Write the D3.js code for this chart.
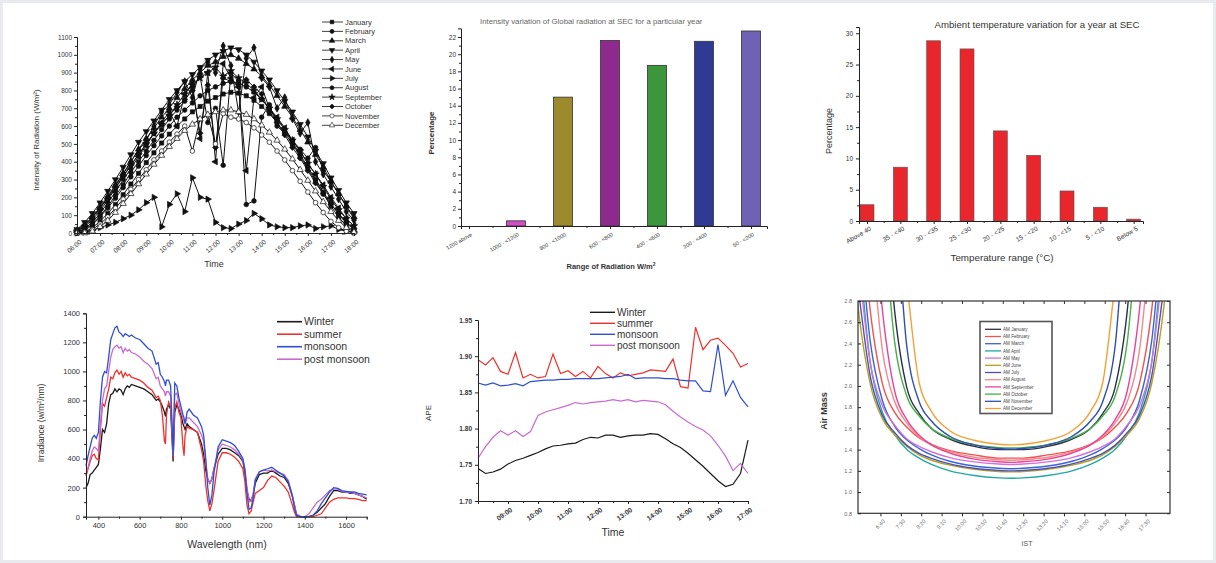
<!DOCTYPE html>
<html>
<head>
<meta charset="utf-8">
<style>
  body { margin: 0; background: #fff; }
  svg { display: block; font-family: "Liberation Sans", Arial, sans-serif; }
</style>
</head>
<body>
<script src="https://d3js.org/d3.v7.min.js"></script>
<script>

// ---------- panel 1 : monthly global radiation ----------
var months = ["January","February","March","April","May","June","July","August","September","October","November","December"];
var hourLabels = ["06:00","07:00","08:00","09:00","10:00","11:00","12:00","13:00","14:00","15:00","16:00","17:00","18:00"];
// minutes after midnight, every 20 min
var radTimes = [360,380,400,420,440,460,480,500,520,540,560,580,600,620,640,660,680,700,720,740,760,780,800,820,840,860,880,900,920,940,960,980,1000,1020,1040,1060,1080];
var radJan = [0,5,30,65,110,160,215,275,335,395,450,505,555,600,640,680,710,740,760,780,790,785,770,745,710,670,620,560,500,430,360,290,220,150,90,40,10];
var radFeb = [0,15,45,90,140,195,255,315,375,435,490,545,600,650,690,730,770,800,820,840,850,840,820,790,750,700,640,580,510,440,370,300,230,165,105,55,20];
var radMar = [15,45,90,145,205,270,335,400,470,530,590,650,700,760,810,860,900,940,960,990,1000,980,950,920,880,830,770,710,650,580,510,440,370,290,220,150,90];
var radApr = [20,60,110,170,235,300,370,440,510,570,630,690,750,800,850,890,930,970,1000,1020,1040,1030,1000,960,910,860,800,740,680,610,540,460,390,310,240,170,110];
var radMay = [10,40,85,140,200,265,330,400,465,520,600,680,720,790,850,760,920,960,900,1050,940,680,980,1040,870,820,700,760,640,560,620,400,330,260,190,120,70];
var radJun = [5,25,60,110,170,230,300,360,430,490,560,620,680,600,780,840,530,900,400,950,870,820,350,760,820,700,650,590,520,460,390,330,270,200,140,80,40];
var radJul = [0,5,15,30,45,60,80,100,130,170,200,35,160,220,120,310,200,190,60,30,25,50,70,110,80,45,35,30,30,40,45,25,35,40,20,10,5];
var radAug = [5,20,50,95,150,210,270,340,400,460,520,580,640,690,740,820,880,620,700,380,900,850,160,180,650,720,600,560,520,470,420,480,350,290,220,150,80];
var radSep = [10,35,75,125,185,250,315,380,440,500,560,610,660,720,780,830,870,900,930,880,910,870,840,800,750,700,640,580,520,460,390,330,260,190,130,80,40];
var radOct = [15,45,90,140,195,255,320,380,440,500,560,610,660,710,750,800,560,830,480,870,850,820,860,820,780,680,620,550,480,420,350,280,220,160,110,60,25];
var radNov = [0,5,20,50,90,140,190,245,300,355,410,460,510,555,600,460,640,660,500,670,650,640,620,590,550,510,460,410,350,290,230,170,115,65,30,10,0];
var radDec = [0,0,10,35,70,115,165,220,275,330,385,435,485,530,575,610,640,665,680,690,690,680,665,640,605,565,520,470,415,355,295,235,175,120,70,30,5];

// ---------- panel 2 : radiation classes ----------
var radRanges = ["1200 above","1000 - <1200","800 - <1000","600 - <800","400 - <600","200 - <400","50 - <200"];
var radPercent = [0, 0.6, 15.0, 21.6, 18.7, 21.5, 22.7];

// ---------- panel 3 : temperature classes ----------
var tempRanges = ["Above 40","35 - <40","30 - <35","25 - <30","20 - <25","15 - <20","10 - <15","5 - <10","Below 5"];
var tempPercent = [2.6, 8.6, 28.8, 27.5, 14.4, 10.5, 4.8, 2.2, 0.3];

// ---------- panel 4 : spectral irradiance ----------
var seasons = ["Winter","summer","monsoon","post monsoon"];
var wavelength = [340,350,360,370,380,390,400,410,420,430,440,450,460,470,480,490,500,510,520,530,540,550,560,580,600,620,640,660,680,690,700,710,720,725,730,740,750,758,762,770,780,790,800,810,815,820,830,840,860,880,900,910,920,930,940,950,960,980,1000,1020,1040,1060,1080,1100,1110,1120,1130,1140,1150,1160,1180,1200,1220,1240,1260,1280,1300,1320,1340,1350,1360,1380,1400,1420,1440,1460,1480,1500,1520,1540,1560,1580,1600,1620,1640,1660,1680,1700];
var irrWinter = [200,230,290,300,320,340,360,470,600,580,640,780,840,850,880,860,880,870,840,880,900,890,910,900,890,880,860,840,800,810,790,760,720,690,740,770,740,500,380,720,770,740,700,640,620,600,640,620,600,580,500,430,320,260,230,260,330,430,470,470,460,440,420,380,300,180,120,110,150,230,290,300,300,320,300,280,270,230,140,80,10,0,0,0,10,30,60,90,140,180,180,170,170,160,160,150,140,120];
var irrSummer = [280,330,380,420,430,400,390,600,780,760,820,880,960,950,990,1010,980,1000,960,990,970,980,960,950,940,920,890,870,820,830,800,700,520,500,700,790,760,560,400,750,790,720,680,480,420,560,620,610,600,580,460,380,220,110,40,90,180,380,440,440,430,410,380,330,240,80,20,40,100,160,180,200,250,280,270,240,210,170,80,30,0,0,0,0,0,10,20,60,100,120,130,130,130,125,125,120,110,110];
var irrMonsoon = [350,420,480,540,560,540,580,800,960,1000,990,1100,1220,1260,1300,1310,1270,1260,1240,1260,1250,1240,1250,1230,1220,1190,1160,1140,1050,1060,980,960,930,900,940,940,900,600,420,920,900,820,760,700,680,640,720,740,700,680,620,560,400,200,80,150,300,480,530,520,510,490,450,400,320,160,50,60,130,250,310,320,330,340,320,300,280,240,140,60,10,0,0,0,10,40,90,130,170,200,195,180,175,170,170,160,155,150];
var irrPost = [290,340,400,450,480,470,450,640,800,880,900,1000,1100,1150,1170,1180,1160,1170,1130,1160,1140,1150,1130,1120,1100,1070,1050,1020,950,960,900,880,860,830,860,860,830,560,420,840,850,780,720,680,660,640,680,680,650,620,560,520,380,260,230,260,330,460,500,490,480,460,430,390,330,200,100,110,160,260,310,320,315,320,310,300,290,250,150,80,20,0,0,20,60,100,120,150,180,190,190,175,170,165,160,150,140,130];

// ---------- panel 5 : APE ----------
var apeHours = [8,8.25,8.5,8.75,9,9.25,9.5,9.75,10,10.25,10.5,10.75,11,11.25,11.5,11.75,12,12.25,12.5,12.75,13,13.25,13.5,13.75,14,14.25,14.5,14.75,15,15.25,15.5,15.75,16,16.25,16.5,16.75,17];
var apeTickLabels = ["09:00","10:00","11:00","12:00","13:00","14:00","15:00","16:00","17:00"];
var apeWinter = [1.745,1.738,1.740,1.744,1.751,1.756,1.759,1.763,1.767,1.772,1.776,1.777,1.779,1.780,1.785,1.788,1.787,1.791,1.791,1.788,1.790,1.791,1.791,1.793,1.792,1.786,1.779,1.774,1.766,1.757,1.748,1.738,1.728,1.720,1.723,1.738,1.784];
var apeSummer = [1.895,1.888,1.898,1.879,1.875,1.905,1.870,1.875,1.870,1.872,1.903,1.876,1.880,1.872,1.879,1.870,1.886,1.876,1.870,1.877,1.873,1.875,1.877,1.881,1.880,1.879,1.896,1.858,1.856,1.940,1.909,1.922,1.925,1.915,1.904,1.885,1.890];
var apeMonsoon = [1.863,1.860,1.863,1.859,1.860,1.862,1.859,1.865,1.866,1.867,1.867,1.868,1.868,1.869,1.869,1.869,1.869,1.870,1.871,1.872,1.875,1.869,1.870,1.870,1.870,1.869,1.869,1.867,1.866,1.866,1.852,1.851,1.916,1.846,1.866,1.843,1.830];
var apePost = [1.759,1.775,1.788,1.797,1.791,1.797,1.789,1.796,1.818,1.823,1.826,1.829,1.832,1.836,1.834,1.836,1.837,1.838,1.840,1.838,1.840,1.837,1.839,1.838,1.837,1.833,1.824,1.816,1.809,1.803,1.798,1.790,1.777,1.762,1.742,1.752,1.738];

// ---------- panel 6 : air mass ----------
var istHours = [5.25,5.75,6.25,6.75,7.25,7.75,8.25,8.75,9.5,10.5,11.5,12,12.5,13.5,14.5,15.25,15.75,16.25,16.75,17.25,17.75,18.25,18.75];
var istTickHours = [6.6667,7.5,8.3333,9.1667,10,10.8333,11.6667,12.5,13.3333,14.1667,15,15.8333,16.6667,17.5];
var istTickLabels = ["6:40","7:30","8:20","9:10","10:00","10:50","11:40","12:30","13:20","14:10","15:00","15:50","16:40","17:30"];
var amJan = [5.0,4.8,4.4,4.1,2.70,1.98,1.74,1.60,1.50,1.43,1.40,1.40,1.40,1.43,1.50,1.60,1.74,1.98,2.70,4.1,4.4,4.8,5.0];
var amFeb = [4.6,3.95,2.71,2.02,1.75,1.61,1.51,1.45,1.39,1.35,1.32,1.32,1.32,1.35,1.39,1.45,1.51,1.61,1.75,2.02,2.71,3.95,4.6];
var amMar = [4.3,3.59,2.42,1.86,1.62,1.49,1.41,1.35,1.29,1.245,1.224,1.22,1.224,1.245,1.29,1.35,1.41,1.49,1.62,1.86,2.42,3.59,4.3];
var amApr = [4.2,3.35,2.22,1.75,1.54,1.40,1.32,1.26,1.20,1.156,1.134,1.13,1.134,1.156,1.20,1.26,1.32,1.40,1.54,1.75,2.22,3.35,4.2];
var amMay = [4.1,3.19,2.22,1.81,1.63,1.50,1.43,1.38,1.325,1.284,1.264,1.26,1.264,1.284,1.325,1.38,1.43,1.50,1.63,1.81,2.22,3.19,4.1];
var amJun = [4.04,2.75,2.02,1.69,1.54,1.43,1.35,1.30,1.254,1.214,1.194,1.19,1.194,1.214,1.254,1.30,1.35,1.43,1.54,1.69,2.02,2.75,4.04];
var amJul = [3.8,2.93,2.09,1.72,1.56,1.44,1.365,1.318,1.266,1.224,1.204,1.20,1.204,1.224,1.266,1.318,1.365,1.44,1.56,1.72,2.09,2.93,3.8];
var amAug = [4.8,4.5,3.48,2.33,1.85,1.65,1.52,1.445,1.381,1.328,1.305,1.30,1.305,1.328,1.381,1.445,1.52,1.65,1.85,2.33,3.48,4.5,4.8];
var amSep = [4.9,4.6,4.09,2.71,1.95,1.68,1.535,1.444,1.368,1.31,1.285,1.28,1.285,1.31,1.368,1.444,1.535,1.68,1.95,2.71,4.09,4.6,4.9];
var amOct = [4.9,4.6,4.3,3.63,2.41,1.90,1.717,1.60,1.508,1.446,1.419,1.415,1.419,1.446,1.508,1.60,1.717,1.90,2.41,3.63,4.3,4.6,4.9];
var amNov = [5.2,5.0,4.6,4.2,3.73,2.36,1.85,1.67,1.526,1.445,1.41,1.405,1.41,1.445,1.526,1.67,1.85,2.36,3.73,4.2,4.6,5.0,5.2];
var amDec = [5.2,5.0,4.8,4.5,4.0,2.96,2.03,1.76,1.578,1.488,1.451,1.445,1.451,1.488,1.578,1.76,2.03,2.96,4.0,4.5,4.8,5.0,5.2];

// ---------------------------------------------------------

var W = 1216, H = 563;
var svg = d3.select("body").append("svg").attr("width", W).attr("height", H);
svg.append("rect").attr("width", W).attr("height", H).attr("fill", "#fff");
svg.append("rect").attr("width", W).attr("height", H)
  .attr("fill", "none").attr("stroke", "#e8eaee").attr("stroke-width", 6);

var intFmt = d3.format("d");

function styleAxis(g, fs) {
  g.attr("font-size", fs).attr("font-family", null);
  g.select(".domain").attr("stroke", "#222");
  g.selectAll(".tick line").attr("stroke", "#222");
  g.selectAll(".tick text").attr("fill", "#333");
  return g;
}
function tilt(g, angle, dx, dy) {
  g.selectAll(".tick text")
    .attr("x", 0).attr("y", 0).attr("dy", "0.35em")
    .attr("text-anchor", "end")
    .attr("transform", "translate(" + dx + "," + dy + ") rotate(" + angle + ")");
}
function minorTicks(parent, axisFn, vals, size, tr) {
  var g = parent.append("g").attr("transform", tr)
    .call(axisFn.tickValues(vals).tickSize(size).tickFormat(""));
  g.select(".domain").remove();
  g.selectAll(".tick line").attr("stroke", "#222");
}
function label(parent, txt, x, y, fs, rot, opts) {
  var t = parent.append("text").attr("x", x).attr("y", y)
    .attr("text-anchor", "middle").attr("font-size", fs).attr("fill", (opts && opts.fill) || "#333")
    .text(txt);
  if (opts && opts.bold) t.attr("font-weight", "bold");
  if (rot) t.attr("transform", "rotate(" + rot + "," + x + "," + y + ")");
  return t;
}

// ===== panel 1 =====
(function () {
  var g = svg.append("g");
  var x = d3.scaleLinear().domain([360, 1080]).range([77, 354]);
  var y = d3.scaleLinear().domain([0, 1100]).range([233, 37]);
  var series = [radJan, radFeb, radMar, radApr, radMay, radJun, radJul, radAug, radSep, radOct, radNov, radDec];
  var symTypes = [d3.symbolSquare, d3.symbolCircle, d3.symbolTriangle, d3.symbolTriangle, d3.symbolDiamond,
                  d3.symbolTriangle, d3.symbolTriangle, d3.symbolCircle, d3.symbolStar, d3.symbolSquare,
                  d3.symbolCircle, d3.symbolTriangle];
  var symRot = [0, 0, 0, 180, 0, -90, 90, 0, 0, 45, 0, 0];
  var symOpen = [false, false, false, false, false, false, false, false, false, false, true, true];
  var line = d3.line().x(function (d, i) { return x(radTimes[i]); }).y(function (d) { return y(d); });

  series.forEach(function (s) {
    g.append("path").datum(s).attr("d", line)
      .attr("fill", "none").attr("stroke", "#111").attr("stroke-width", 1);
  });
  series.forEach(function (s, k) {
    var sym = d3.symbol().type(symTypes[k]).size(17);
    g.selectAll(null).data(s).enter().append("path")
      .attr("d", sym)
      .attr("transform", function (d, i) { return "translate(" + x(radTimes[i]) + "," + y(d) + ") rotate(" + symRot[k] + ")"; })
      .attr("fill", symOpen[k] ? "#fff" : "#111")
      .attr("stroke", "#111").attr("stroke-width", 0.7);
  });

  var ax = g.append("g").attr("transform", "translate(0,233)")
    .call(d3.axisBottom(x).tickValues(d3.range(360, 1081, 60))
      .tickFormat(function (d, i) { return hourLabels[i]; }).tickSize(3).tickPadding(2));
  styleAxis(ax, 6.5); tilt(ax, -40, 3, 8);
  minorTicks(g, d3.axisBottom(x), d3.range(390, 1080, 60), 2, "translate(0,233)");
  var ay = g.append("g").attr("transform", "translate(77,0)")
    .call(d3.axisLeft(y).tickValues(d3.range(0, 1101, 100)).tickFormat(intFmt).tickSize(3).tickPadding(2));
  styleAxis(ay, 6.5);
  minorTicks(g, d3.axisLeft(y), d3.range(50, 1100, 100), 2, "translate(77,0)");

  label(g, "Intensity of Radiation (W/m\u00B2)", 39, 140, 8, -90);
  label(g, "Time", 214, 267, 9);

  var lg = g.append("g");
  months.forEach(function (m, k) {
    var yy = 22 + k * 9.39;
    lg.append("line").attr("x1", 322).attr("x2", 343).attr("y1", yy).attr("y2", yy)
      .attr("stroke", "#111").attr("stroke-width", 0.8);
    lg.append("path").attr("d", d3.symbol().type(symTypes[k]).size(13))
      .attr("transform", "translate(332," + yy + ") rotate(" + symRot[k] + ")")
      .attr("fill", symOpen[k] ? "#fff" : "#111").attr("stroke", "#111").attr("stroke-width", 0.6);
    lg.append("text").attr("x", 345).attr("y", yy).attr("dy", "0.35em")
      .attr("font-size", 7.5).attr("fill", "#333").text(m);
  });
})();

// ===== panel 2 =====
(function () {
  var g = svg.append("g");
  var x = d3.scaleLinear().domain([-0.17, 6.34]).range([461, 767]);
  var y = d3.scaleLinear().domain([0, 23]).range([226, 28.4]);
  var colors = ["#444", "#d24fc8", "#9c8a2c", "#8e2a8e", "#3c963c", "#2e3a94", "#6f62b4"];
  g.selectAll(null).data(radPercent).enter().append("rect")
    .attr("x", function (d, i) { return x(i) - 9.5; })
    .attr("y", function (d) { return y(d); })
    .attr("width", 19)
    .attr("height", function (d) { return y(0) - y(d); })
    .attr("fill", function (d, i) { return colors[i]; })
    .attr("stroke", "#333").attr("stroke-width", 0.8);

  var ax = g.append("g").attr("transform", "translate(0,226)")
    .call(d3.axisBottom(x).tickValues(d3.range(0, 7))
      .tickFormat(function (d) { return radRanges[d]; }).tickSize(3).tickPadding(2));
  styleAxis(ax, 5.5); tilt(ax, -30, 2, 8);
  minorTicks(g, d3.axisBottom(x), d3.range(0.5, 6.5, 1), 2, "translate(0,226)");
  var ay = g.append("g").attr("transform", "translate(461,0)")
    .call(d3.axisLeft(y).tickValues(d3.range(0, 23, 2)).tickFormat(intFmt).tickSize(3).tickPadding(2));
  styleAxis(ay, 6.5);
  minorTicks(g, d3.axisLeft(y), d3.range(1, 23, 2), 2, "translate(461,0)");

  g.append("text").attr("x", 480).attr("y", 24).attr("font-size", 7.8).attr("fill", "#666")
    .text("Intensity variation of Global radiation at SEC for a particular year");
  label(g, "Percentage", 434, 133, 8, -90, { bold: true });
  var xl = label(g, "Range of Radiation W/m", 611, 269, 7.5, 0, { bold: true });
  xl.append("tspan").attr("font-size", 5).attr("dy", -3).text("2");
})();

// ===== panel 3 =====
(function () {
  var g = svg.append("g");
  var x = d3.scaleLinear().domain([-0.24, 8.28]).range([859, 1143]);
  var y = d3.scaleLinear().domain([0, 31]).range([221, 27]);
  g.selectAll(null).data(tempPercent).enter().append("rect")
    .attr("x", function (d, i) { return x(i) - 7; })
    .attr("y", function (d) { return y(d); })
    .attr("width", 14)
    .attr("height", function (d) { return y(0) - y(d); })
    .attr("fill", "#e8262b").attr("stroke", "#555").attr("stroke-width", 0.6);

  var ax = g.append("g").attr("transform", "translate(0,221)")
    .call(d3.axisBottom(x).tickValues(d3.range(0, 9))
      .tickFormat(function (d) { return tempRanges[d]; }).tickSize(3).tickPadding(2));
  styleAxis(ax, 6.5); tilt(ax, -30, 3, 7);
  minorTicks(g, d3.axisBottom(x), d3.range(0.5, 8, 1), 2, "translate(0,221)");
  var ay = g.append("g").attr("transform", "translate(859,0)")
    .call(d3.axisLeft(y).tickValues(d3.range(0, 31, 5)).tickFormat(intFmt).tickSize(3).tickPadding(3));
  styleAxis(ay, 6.5);
  minorTicks(g, d3.axisLeft(y), d3.range(2.5, 31, 5), 2, "translate(859,0)");

  label(g, "Ambient temperature variation for a year at SEC", 1037, 28, 9.6);
  label(g, "Percentage", 832, 131, 9, -90);
  label(g, "Temperature range (\u00B0C)", 1002, 261, 9.8);
})();

// ===== panel 4 =====
(function () {
  var g = svg.append("g");
  var x = d3.scaleLinear().domain([340, 1700]).range([86, 366.7]);
  var y = d3.scaleLinear().domain([0, 1400]).range([516.7, 313.3]);
  var series = [irrWinter, irrSummer, irrMonsoon, irrPost];
  var colors = ["#1a1a1a", "#f0302c", "#2f4fd0", "#c86ad0"];
  var line = d3.line().x(function (d, i) { return x(wavelength[i]); }).y(function (d) { return y(d); });
  [0, 1, 3, 2].forEach(function (k) {
    g.append("path").datum(series[k]).attr("d", line)
      .attr("fill", "none").attr("stroke", colors[k]).attr("stroke-width", 1.3);
  });

  var ax = g.append("g").attr("transform", "translate(0,516.7)")
    .call(d3.axisBottom(x).tickValues(d3.range(400, 1601, 200)).tickFormat(intFmt).tickSize(3).tickPadding(3));
  styleAxis(ax, 7.5);
  minorTicks(g, d3.axisBottom(x), d3.range(500, 1701, 200), 2, "translate(0,516.7)");
  var ay = g.append("g").attr("transform", "translate(86,0)")
    .call(d3.axisLeft(y).tickValues(d3.range(0, 1401, 200)).tickFormat(intFmt).tickSize(3).tickPadding(3));
  styleAxis(ay, 7.5);
  minorTicks(g, d3.axisLeft(y), d3.range(100, 1400, 200), 2, "translate(86,0)");

  var yl = label(g, "Irradiance (w/m", 44, 423, 8.5, -90);
  yl.append("tspan").attr("font-size", 5.5).attr("dy", -3).text("2");
  yl.append("tspan").attr("dy", 3).text("/nm)");
  label(g, "Wavelength (nm)", 227, 548, 10.5);

  seasons.forEach(function (s, k) {
    var yy = 321.7 + k * 12.5;
    g.append("line").attr("x1", 277).attr("x2", 302).attr("y1", yy).attr("y2", yy)
      .attr("stroke", colors[k]).attr("stroke-width", 1.6);
    g.append("text").attr("x", 304).attr("y", yy).attr("dy", "0.35em")
      .attr("font-size", 10.5).attr("fill", "#333").text(s);
  });
})();

// ===== panel 5 =====
(function () {
  var g = svg.append("g");
  var x = d3.scaleLinear().domain([8, 17]).range([478, 748]);
  var y = d3.scaleLinear().domain([1.70, 1.95]).range([501, 320]);
  var series = [apeWinter, apeSummer, apeMonsoon, apePost];
  var colors = ["#1a1a1a", "#f0302c", "#2f4fd0", "#c86ad0"];
  var line = d3.line().x(function (d, i) { return x(apeHours[i]); }).y(function (d) { return y(d); });
  series.forEach(function (s, k) {
    g.append("path").datum(s).attr("d", line)
      .attr("fill", "none").attr("stroke", colors[k]).attr("stroke-width", 1.2);
  });

  var ax = g.append("g").attr("transform", "translate(0,501)")
    .call(d3.axisBottom(x).tickValues(d3.range(9, 18))
      .tickFormat(function (d, i) { return apeTickLabels[i]; }).tickSize(3).tickPadding(2));
  styleAxis(ax, 6.8); tilt(ax, -35, 3, 8);
  ax.selectAll(".tick text").attr("font-weight", "bold");
  minorTicks(g, d3.axisBottom(x), d3.range(8.5, 17, 1), 2, "translate(0,501)");
  var ay = g.append("g").attr("transform", "translate(478,0)")
    .call(d3.axisLeft(y).tickValues([1.70, 1.75, 1.80, 1.85, 1.90, 1.95])
      .tickFormat(d3.format(".2f")).tickSize(3).tickPadding(3));
  styleAxis(ay, 6.5);
  ay.selectAll(".tick text").attr("font-weight", "bold");
  minorTicks(g, d3.axisLeft(y), [1.725, 1.775, 1.825, 1.875, 1.925], 2, "translate(478,0)");

  label(g, "APE", 431, 413, 8, -90);
  label(g, "Time", 613, 536, 10.5);

  seasons.forEach(function (s, k) {
    var yy = 312.3 + k * 11;
    g.append("line").attr("x1", 590).attr("x2", 615).attr("y1", yy).attr("y2", yy)
      .attr("stroke", colors[k]).attr("stroke-width", 1.4);
    g.append("text").attr("x", 617).attr("y", yy).attr("dy", "0.35em")
      .attr("font-size", 10).attr("fill", "#333").text(s);
  });
})();

// ===== panel 6 =====
(function () {
  var g = svg.append("g");
  var x0 = 858, x1 = 1170, y0 = 301, y1 = 513.3;
  var x = d3.scaleLinear().domain([5.75, 18.5]).range([x0, x1]);
  var y = d3.scaleLinear().domain([0.8, 2.8]).range([y1, y0]);
  var series = [amJan, amFeb, amMar, amApr, amMay, amJun, amJul, amAug, amSep, amOct, amNov, amDec];
  var colors = ["#2b2f4a", "#f0524d", "#3a63d8", "#22a6a6", "#d470d8", "#b8a11c",
                "#4b4fb8", "#f28a8a", "#e8449a", "#45b045", "#2f4fb0", "#f5a033"];

  svg.append("clipPath").attr("id", "amclip").append("rect")
    .attr("x", x0).attr("y", y0).attr("width", x1 - x0).attr("height", y1 - y0);
  var plot = g.append("g").attr("clip-path", "url(#amclip)");
  var line = d3.line().curve(d3.curveMonotoneX)
    .x(function (d, i) { return x(istHours[i]); }).y(function (d) { return y(d); });
  series.forEach(function (s, k) {
    plot.append("path").datum(s).attr("d", line)
      .attr("fill", "none").attr("stroke", colors[k]).attr("stroke-width", 1.4);
  });

  g.append("rect").attr("x", x0).attr("y", y0).attr("width", x1 - x0).attr("height", y1 - y0)
    .attr("fill", "none").attr("stroke", "#333").attr("stroke-width", 1.2);

  var ax = g.append("g").attr("transform", "translate(0," + y1 + ")")
    .call(d3.axisBottom(x).tickValues(istTickHours)
      .tickFormat(function (d, i) { return istTickLabels[i]; }).tickSize(3).tickPadding(2));
  styleAxis(ax, 5.5); tilt(ax, -45, 3, 7);
  ax.select(".domain").remove();
  ax.selectAll(".tick text").attr("fill", "#666");
  var at = g.append("g").attr("transform", "translate(0," + y0 + ")")
    .call(d3.axisBottom(x).tickValues(istTickHours).tickSize(3).tickFormat(""));
  at.select(".domain").remove(); at.selectAll(".tick line").attr("stroke", "#333");

  var amTicks = [0.8, 1.0, 1.2, 1.4, 1.6, 1.8, 2.0, 2.2, 2.4, 2.6, 2.8];
  var ay = g.append("g").attr("transform", "translate(" + x0 + ",0)")
    .call(d3.axisLeft(y).tickValues(amTicks)
      .tickFormat(d3.format(".1f")).tickSize(-3).tickPadding(6));
  styleAxis(ay, 5.5);
  ay.select(".domain").remove();
  ay.selectAll(".tick text").attr("fill", "#666");
  var ar = g.append("g").attr("transform", "translate(" + x1 + ",0)")
    .call(d3.axisRight(y).tickValues(amTicks).tickSize(-3).tickFormat(""));
  ar.select(".domain").remove(); ar.selectAll(".tick line").attr("stroke", "#333");

  label(g, "Air Mass", 827, 411, 9, -90, { bold: true });
  label(g, "IST", 1027, 546, 7, 0, { fill: "#555" });

  var lg = g.append("g");
  lg.append("rect").attr("x", 980).attr("y", 321.5).attr("width", 72).attr("height", 92)
    .attr("fill", "#fff").attr("stroke", "#555").attr("stroke-width", 1.6);
  months.forEach(function (m, k) {
    var yy = 329.3 + k * 7.2;
    lg.append("line").attr("x1", 985).attr("x2", 1001).attr("y1", yy).attr("y2", yy)
      .attr("stroke", colors[k]).attr("stroke-width", 1.3);
    lg.append("text").attr("x", 1003).attr("y", yy).attr("dy", "0.35em")
      .attr("font-size", 4.6).attr("fill", "#444").text("AM " + m);
  });
})();

</script>
</body>
</html>
